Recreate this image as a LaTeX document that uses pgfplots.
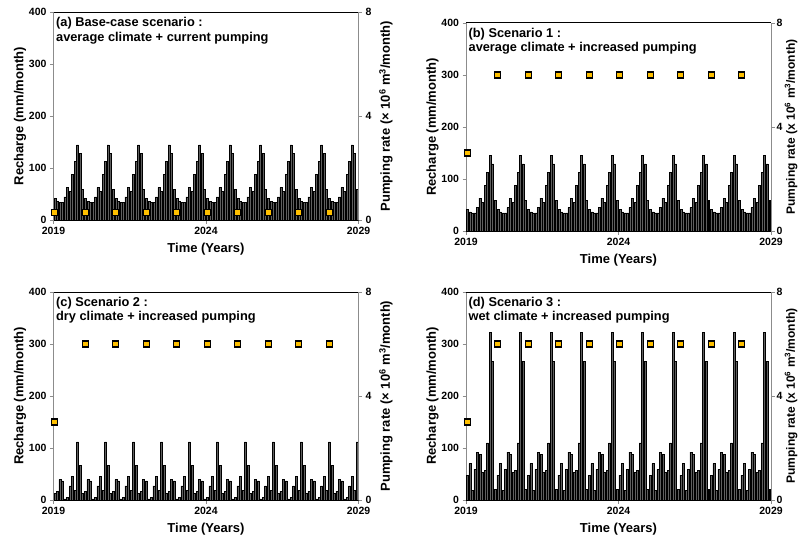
\documentclass[border=0pt]{standalone}
\usepackage{fontspec}
\setmainfont{Liberation Sans}
\usepackage{pgfplots}
\usepackage{pgfplotstable}
\pgfplotsset{compat=1.18}
\definecolor{barfill}{RGB}{95,95,95}
\definecolor{pumpfill}{RGB}{255,192,0}
\definecolor{axgray}{RGB}{140,140,140}

\pgfplotstableread{
x a c d
0.5 42 13 48
1.5 37 17 70
2.5 35 39 18
3.5 35 37 59
4.5 45 2 92
5.5 63 5 88
6.5 55 27 53
7.5 88 45 57
8.5 113 19 110
9.5 145 112 322
10.5 129 66 267
11.5 59 13 20
12.5 42 17 48
13.5 37 39 70
14.5 35 37 18
15.5 35 2 59
16.5 45 5 92
17.5 63 27 88
18.5 55 45 53
19.5 88 19 57
20.5 113 112 110
21.5 145 66 322
22.5 129 13 267
23.5 59 17 20
24.5 42 39 48
25.5 37 37 70
26.5 35 2 18
27.5 35 5 59
28.5 45 27 92
29.5 63 45 88
30.5 55 19 53
31.5 88 112 57
32.5 113 66 110
33.5 145 13 322
34.5 129 17 267
35.5 59 39 20
36.5 42 37 48
37.5 37 2 70
38.5 35 5 18
39.5 35 27 59
40.5 45 45 92
41.5 63 19 88
42.5 55 112 53
43.5 88 66 57
44.5 113 13 110
45.5 145 17 322
46.5 129 39 267
47.5 59 37 20
48.5 42 2 48
49.5 37 5 70
50.5 35 27 18
51.5 35 45 59
52.5 45 19 92
53.5 63 112 88
54.5 55 66 53
55.5 88 13 57
56.5 113 17 110
57.5 145 39 322
58.5 129 37 267
59.5 59 2 20
60.5 42 5 48
61.5 37 27 70
62.5 35 45 18
63.5 35 19 59
64.5 45 112 92
65.5 63 66 88
66.5 55 13 53
67.5 88 17 57
68.5 113 39 110
69.5 145 37 322
70.5 129 2 267
71.5 59 5 20
72.5 42 27 48
73.5 37 45 70
74.5 35 19 18
75.5 35 112 59
76.5 45 66 92
77.5 63 13 88
78.5 55 17 53
79.5 88 39 57
80.5 113 37 110
81.5 145 2 322
82.5 129 5 267
83.5 59 27 20
84.5 42 45 48
85.5 37 19 70
86.5 35 112 18
87.5 35 66 59
88.5 45 13 92
89.5 63 17 88
90.5 55 39 53
91.5 88 37 57
92.5 113 2 110
93.5 145 5 322
94.5 129 27 267
95.5 59 45 20
96.5 42 19 48
97.5 37 112 70
98.5 35 66 18
99.5 35 13 59
100.5 45 17 92
101.5 63 39 88
102.5 55 37 53
103.5 88 2 57
104.5 113 5 110
105.5 145 27 322
106.5 129 45 267
107.5 59 19 20
108.5 42 112 48
109.5 37 66 70
110.5 35 13 18
111.5 35 17 59
112.5 45 39 92
113.5 63 37 88
114.5 55 2 53
115.5 88 5 57
116.5 113 27 110
117.5 145 45 322
118.5 129 19 267
119.5 59 112 20
}\recharge

\pgfplotstableread{
x pa pb
0.5 0.3 3
12.5 0.3 6
24.5 0.3 6
36.5 0.3 6
48.5 0.3 6
60.5 0.3 6
72.5 0.3 6
84.5 0.3 6
96.5 0.3 6
108.5 0.3 6
}\pumping

\pgfplotsset{
  common/.style={
    scale only axis, width=305pt, height=208pt, anchor=north west,
    xmin=0, xmax=120,
    tick align=outside, major tick length=3.5pt,
    major tick style={draw=axgray, line width=0.8pt},
    label style={font=\bfseries\fontsize{13}{15}\selectfont},
    tick label style={font=\bfseries\fontsize{10.5}{12}\selectfont},
    /pgf/number format/assume math mode=true,
    clip mode=individual,
  },
  leftax/.style={
    common,
    ymin=0, ymax=400, ytick={0,100,200,300,400},
    xtick={0,60,120}, xticklabels={2019,2024,2029},
    axis x line*=bottom, axis y line*=left,
    axis line style={draw=axgray, line width=0.8pt},
    xlabel={Time (Years)}, ylabel={Recharge (mm/month)},
    xlabel style={at={(axis description cs:0.5,-0.14)}, anchor=center},
    ylabel style={at={(axis description cs:-0.11,0.5)}, anchor=center},
  },
  rightax/.style={
    common,
    ymin=0, ymax=8, ytick={0,4,8}, xtick=\empty,
    axis y line*=right, axis x line*=top,
    y axis line style={draw=axgray, line width=0.8pt},
    x axis line style={draw=black, line width=1pt},
    ylabel style={at={(axis description cs:1.09,0.5)}, anchor=center},
  },
  rightedge/.style={
    ylabel style={at={(axis description cs:1.088,0.5)}, anchor=south,
      inner sep=0.3pt, font=\bfseries\fontsize{12}{14}\selectfont},
    yticklabel style={xshift=-1.5pt},
  },
  bars/.style={ybar, bar width=0.78, fill=barfill, draw=black, line width=0.5pt},
  pumps/.style={only marks, mark=square*, mark size=3pt,
    mark options={fill=pumpfill, draw=black, line width=1.1pt}},
}
\tikzset{ttl/.style={anchor=north west, align=left, inner sep=0pt,
    font=\bfseries\fontsize{12.8}{14.3}\selectfont}}

\begin{document}
\begin{tikzpicture}
% (a)
\begin{axis}[leftax, at={(53.5pt,-12.3pt)}]
  \addplot[bars] table[x=x, y=a] {\recharge};
  \node[ttl] at (rel axis cs:0.008,0.975) {(a) Base-case scenario :\\average climate + current pumping};
\end{axis}
\begin{axis}[rightax, at={(53.5pt,-12.3pt)},
  ylabel={Pumping rate (× 10\textsuperscript{6} m\textsuperscript{3}/month)}]
  \addplot[pumps] table[x=x, y=pa] {\pumping};
\end{axis}
% (b)
\begin{axis}[leftax, at={(466pt,-23pt)}]
  \addplot[bars] table[x=x, y=a] {\recharge};
  \node[ttl] at (rel axis cs:0.008,0.975) {(b) Scenario 1 :\\average climate + increased pumping};
\end{axis}
\begin{axis}[rightax, rightedge, at={(466pt,-23pt)},
  ylabel={Pumping rate (x 10\textsuperscript{6} m\textsuperscript{3}/month)}]
  \addplot[pumps] table[x=x, y=pb] {\pumping};
\end{axis}
% (c)
\begin{axis}[leftax, at={(53.5pt,-292pt)}]
  \addplot[bars] table[x=x, y=c] {\recharge};
  \node[ttl] at (rel axis cs:0.008,0.975) {(c) Scenario 2 :\\dry climate + increased pumping};
\end{axis}
\begin{axis}[rightax, at={(53.5pt,-292pt)},
  ylabel={Pumping rate (× 10\textsuperscript{6} m\textsuperscript{3}/month)}]
  \addplot[pumps] table[x=x, y=pb] {\pumping};
\end{axis}
% (d)
\begin{axis}[leftax, at={(466pt,-292pt)}]
  \addplot[bars] table[x=x, y=d] {\recharge};
  \node[ttl] at (rel axis cs:0.008,0.975) {(d) Scenario 3 :\\wet climate + increased pumping};
\end{axis}
\begin{axis}[rightax, rightedge, at={(466pt,-292pt)},
  ylabel={Pumping rate (x 10\textsuperscript{6} m\textsuperscript{3}/month)}]
  \addplot[pumps] table[x=x, y=pb] {\pumping};
\end{axis}
\pgfresetboundingbox
\useasboundingbox (0pt,0pt) rectangle (799pt,-538pt);
\end{tikzpicture}
\end{document}
